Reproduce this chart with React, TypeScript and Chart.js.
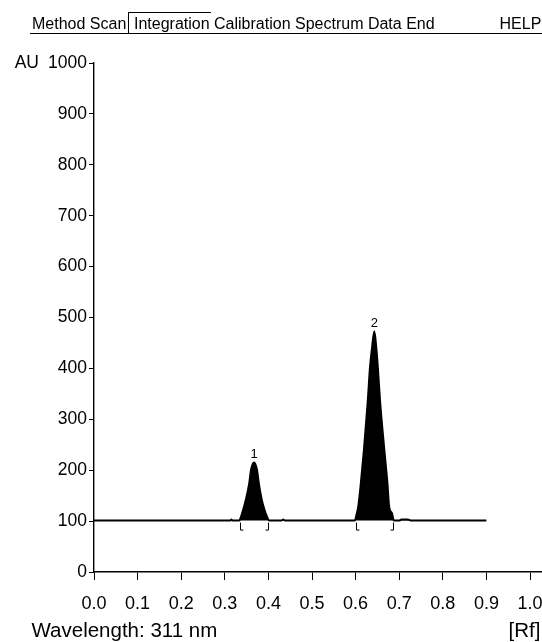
import React, { useEffect, useRef } from 'react';
import Chart from 'chart.js/auto';

// ---- data ----
const rfValues = [
  0.0, 0.30, 0.312, 0.315, 0.318, 0.333, 0.337, 0.342, 0.348, 0.356, 0.360, 0.364, 0.367,
  0.370, 0.374, 0.378, 0.385, 0.391, 0.397, 0.402, 0.430, 0.434, 0.438, 0.598, 0.603,
  0.606, 0.612, 0.619, 0.628, 0.633, 0.637, 0.643, 0.648, 0.651, 0.656, 0.666, 0.673,
  0.677, 0.683, 0.688, 0.700, 0.705, 0.720, 0.728, 0.900,
];
const auValues = [
  101, 101, 101, 103, 101, 101, 108, 122, 141, 174, 200, 212, 215,
  212, 200, 174, 141, 122, 108, 101, 101, 103, 101, 101, 116,
  128, 174, 239, 337, 402, 435, 473, 435, 402, 337, 239, 174,
  128, 116, 101, 101, 103, 103, 101, 101,
];
const baselineAU = 101;
const peakNumbers = ['1', '2'];
const peakRf = [0.367, 0.643];
const peakAU = [215, 473];
const integStartRf = [0.336, 0.6];
const integEndRf = [0.4, 0.685];
const xTickValues = [0.0, 0.1, 0.2, 0.3, 0.4, 0.5, 0.6, 0.7, 0.8, 0.9, 1.0];
const yTickValues = [0, 100, 200, 300, 400, 500, 600, 700, 800, 900, 1000];
const menuLeft = 'Method Scan';
const menuActiveRest = 'Integration Calibration Spectrum Data End';
const menuHelp = 'HELP';
const yUnit = 'AU';
const footerLeft = 'Wavelength: 311 nm';
const footerRight = '[Rf]';

const FONT = "'Liberation Sans', Arial, Helvetica, sans-serif";

export default function App() {
  const ref = useRef<HTMLCanvasElement | null>(null);

  useEffect(() => {
    if (!ref.current) return;
    const overlay = {
      id: 'overlay',
      afterDraw(chart: any) {
        const { ctx } = chart;
        const x = chart.scales.x;
        const y = chart.scales.y;
        ctx.save();
        ctx.fillStyle = '#000';
        ctx.strokeStyle = '#000';
        // unit label next to top tick
        ctx.font = `17.5px ${FONT}`;
        ctx.textAlign = 'right';
        ctx.textBaseline = 'middle';
        ctx.fillText(yUnit, 39, y.getPixelForValue(yTickValues[yTickValues.length - 1]));
        // footer
        ctx.font = `20.5px ${FONT}`;
        ctx.textBaseline = 'alphabetic';
        ctx.textAlign = 'left';
        ctx.fillText(footerLeft, 31.5, 637);
        ctx.textAlign = 'right';
        ctx.fillText(footerRight, 540.5, 637);
        // peak numbers
        ctx.font = `13px ${FONT}`;
        ctx.textAlign = 'center';
        ctx.textBaseline = 'bottom';
        peakNumbers.forEach((n, i) => {
          ctx.fillText(n, x.getPixelForValue(peakRf[i]), y.getPixelForValue(peakAU[i]) - 1.5);
        });
        // integration brackets
        const by = y.getPixelForValue(baselineAU);
        ctx.lineWidth = 1;
        ctx.beginPath();
        integStartRf.forEach((r) => {
          const px = Math.round(x.getPixelForValue(r)) + 0.5;
          ctx.moveTo(px, by + 2);
          ctx.lineTo(px, by + 9.5);
          ctx.lineTo(px + 3, by + 9.5);
        });
        integEndRf.forEach((r) => {
          const px = Math.round(x.getPixelForValue(r)) + 0.5;
          ctx.moveTo(px, by + 2);
          ctx.lineTo(px, by + 9.5);
          ctx.lineTo(px - 3, by + 9.5);
        });
        ctx.stroke();
        ctx.restore();
      },
    };

    const chart = new Chart(ref.current, {
      type: 'line',
      data: {
        datasets: [
          {
            data: rfValues.map((r, i) => ({ x: r, y: auValues[i] })),
            borderColor: '#000',
            backgroundColor: '#000',
            borderWidth: 2,
            pointRadius: 0,
            tension: 0,
            cubicInterpolationMode: 'monotone',
            fill: { value: baselineAU },
          },
        ],
      },
      options: {
        animation: false,
        responsive: false,
        layout: { padding: { top: 63, left: 0, right: 0, bottom: 0 } },
        plugins: { legend: { display: false }, tooltip: { enabled: false } },
        scales: {
          x: {
            type: 'linear',
            min: 0,
            max: 448 / 436,
            afterBuildTicks: (s: any) => {
              s.ticks = xTickValues.map((v) => ({ value: v }));
            },
            afterFit: (s: any) => {
              s.height = 70;
              s.paddingLeft = 0;
              s.paddingRight = 0;
            },
            ticks: {
              autoSkip: false,
              maxRotation: 0,
              padding: 13,
              color: '#000',
              font: { family: FONT, size: 18 },
              callback: (v: any) => Number(v).toFixed(1),
            },
            grid: { drawOnChartArea: false, drawTicks: true, tickLength: 8, color: '#000', lineWidth: 1 },
            border: { color: '#000', width: 1.6 },
          },
          y: {
            type: 'linear',
            min: 0,
            max: 1000,
            afterBuildTicks: (s: any) => {
              s.ticks = yTickValues.map((v) => ({ value: v }));
            },
            afterFit: (s: any) => {
              s.width = 94;
            },
            ticks: {
              autoSkip: false,
              padding: 2,
              color: '#000',
              font: { family: FONT, size: 17.5 },
              callback: (v: any) => String(v),
            },
            grid: { drawOnChartArea: false, drawTicks: true, tickLength: 5, color: '#000', lineWidth: 1 },
            border: { color: '#000', width: 1.4 },
          },
        },
      } as any,
      plugins: [overlay],
    });
    return () => chart.destroy();
  }, []);

  const textStyle: React.CSSProperties = {
    position: 'absolute',
    top: 15.9,
    fontFamily: FONT,
    fontSize: 16,
    lineHeight: '16px',
    whiteSpace: 'nowrap',
    color: '#000',
  };

  return (
    <div style={{ position: 'fixed', left: 0, top: 0, width: 542, height: 642, background: '#fff', overflow: 'hidden' }}>
      <canvas ref={ref} width={542} height={642} style={{ position: 'absolute', left: 0, top: 0, width: 542, height: 642 }} />
      <div style={{ position: 'absolute', left: 30, top: 32.8, width: 512, height: 0, borderTop: '1.5px solid #000' }} />
      <div style={{ position: 'absolute', left: 128, top: 11.5, width: 82, height: 21.5, borderTop: '1px solid #000', borderLeft: '1px solid #000' }} />
      <span style={{ ...textStyle, left: 32 }}>{menuLeft}</span>
      <span style={{ ...textStyle, left: 134 }}>{menuActiveRest}</span>
      <span style={{ ...textStyle, left: 499.5 }}>{menuHelp}</span>
    </div>
  );
}
